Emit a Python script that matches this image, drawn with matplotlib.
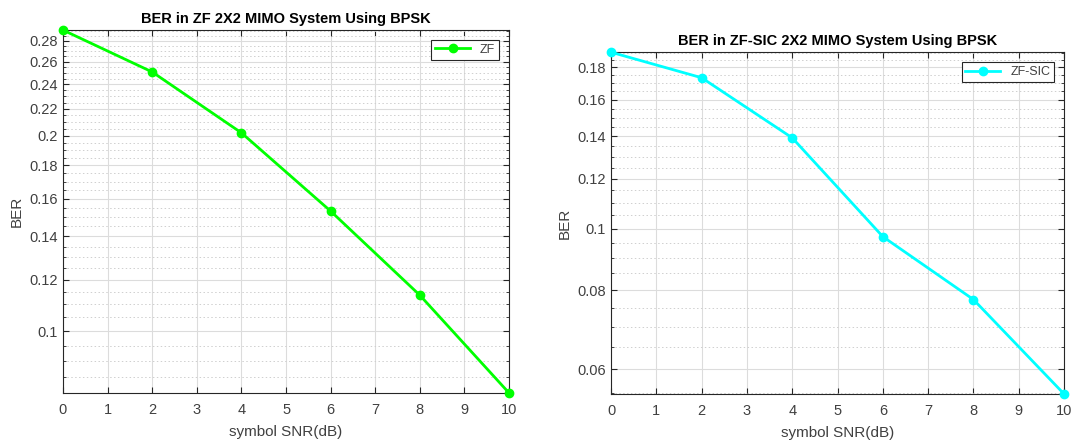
import numpy as np
import matplotlib.pyplot as plt
from matplotlib.ticker import FixedLocator, FuncFormatter, NullFormatter

plt.rcParams['font.family'] = ['Liberation Sans', 'DejaVu Sans']

snr = [0, 2, 4, 6, 8, 10]
ber_zf = [0.291, 0.2508, 0.2021, 0.1531, 0.1136, 0.0803]
ber_sic = [0.1903, 0.1734, 0.1393, 0.0972, 0.0773, 0.0548]

xticks = list(range(0, 11))
yticks_zf = [0.1, 0.12, 0.14, 0.16, 0.18, 0.2, 0.22, 0.24, 0.26, 0.28]
yticks_sic = [0.06, 0.08, 0.1, 0.12, 0.14, 0.16, 0.18]

txt = '#262626'


def style_axes(ax, yticks, ylim):
    ax.set_yscale('log')
    ax.set_xlim(0, 10)
    ax.set_ylim(*ylim)
    ax.xaxis.set_major_locator(FixedLocator(xticks))
    ax.yaxis.set_major_locator(FixedLocator(yticks))
    minors = np.round(np.arange(0.05, 0.3001, 0.005), 3)
    ax.yaxis.set_minor_locator(FixedLocator([m for m in minors if m not in yticks]))
    ax.yaxis.set_major_formatter(FuncFormatter(lambda v, p: '%g' % v))
    ax.yaxis.set_minor_formatter(NullFormatter())
    ax.grid(True, which='major', color='#dcdcdc', lw=0.8, ls='-')
    ax.grid(True, which='minor', axis='y', color='#cfcfcf', lw=0.7, ls=(0, (1.5, 2.5)))
    ax.set_axisbelow(True)
    ax.tick_params(which='both', direction='in', top=True, right=True,
                   labelsize=10.5, colors=txt, labelcolor='#404040')
    ax.tick_params(which='major', length=4)
    ax.tick_params(which='minor', length=2)
    ax.tick_params(axis='x', which='major', pad=7)
    for s in ax.spines.values():
        s.set_color(txt)
        s.set_linewidth(0.8)
    ax.set_xlabel('symbol SNR(dB)', fontsize=11, color='#404040', labelpad=6)
    ax.set_ylabel('BER', fontsize=11, color='#404040')


fig = plt.figure(figsize=(10.88, 4.41), dpi=100)
ax1 = fig.add_axes([0.0579, 0.1088, 0.41, 0.823])
ax2 = fig.add_axes([0.5616, 0.1066, 0.4164, 0.775])

ax1.plot(snr, ber_zf, '-o', color=(0, 1, 0), lw=2, ms=6, label='ZF', clip_on=False, zorder=5)
style_axes(ax1, yticks_zf, (min(ber_zf), max(ber_zf)))
ax1.set_title('BER in ZF 2X2 MIMO System Using BPSK', fontsize=10.5, fontweight='bold', pad=5)

ax2.plot(snr, ber_sic, '-o', color=(0, 1, 1), lw=2, ms=6, label='ZF-SIC', clip_on=False, zorder=5)
style_axes(ax2, yticks_sic, (min(ber_sic), max(ber_sic)))
ax2.set_title('BER in ZF-SIC 2X2 MIMO System Using BPSK', fontsize=10.5, fontweight='bold', pad=5)

for ax in (ax1, ax2):
    leg = ax.legend(loc='upper right', fontsize=9, fancybox=False, framealpha=1,
                    edgecolor=txt, handlelength=2.8, borderpad=0.3, borderaxespad=0.8)
    leg.get_frame().set_linewidth(0.8)
    for t in leg.get_texts():
        t.set_color('#404040')

fig.savefig('out.png', dpi=100)
